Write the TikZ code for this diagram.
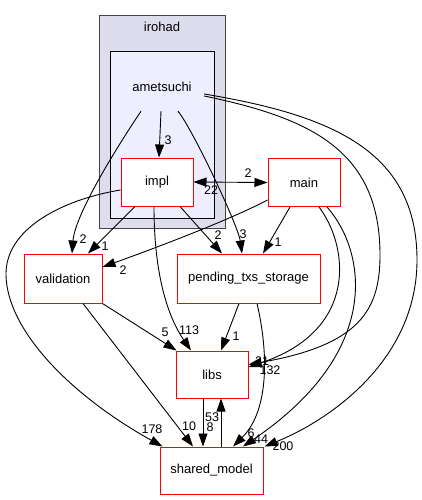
\documentclass[tikz,border=0pt]{standalone}
\usepackage{fontspec}
\setmainfont{Liberation Sans}
\usetikzlibrary{arrows.meta,calc}
\definecolor{outerfill}{HTML}{DDDDEE}
\definecolor{innerfill}{HTML}{EEEEFF}
\definecolor{outerline}{HTML}{444444}
\begin{document}
\begin{tikzpicture}[x=1pt,y=-1pt,
  dirbox/.style={draw=red, line width=1pt, fill=white, minimum height=48pt, inner sep=0pt, font=\fontsize{13}{15}\selectfont},
  lbl/.style={inner sep=0pt, font=\fontsize{12.5}{14}\selectfont},
  conn/.style={draw=black, line width=0.9pt, -{Triangle[length=13pt,width=9pt]}},
  bothconn/.style={draw=black, line width=0.9pt, {Triangle[length=13pt,width=9pt]}-{Triangle[length=13pt,width=9pt]}}]
\useasboundingbox (0,0) rectangle (422,500);
% clusters
\node[draw=outerline, fill=outerfill, line width=1pt, minimum width=126pt, minimum height=212pt, inner sep=0pt] (irohad) at (162,122) {};
\node[lbl, font=\fontsize{13}{15}\selectfont] (irohadlbl) at (162,27) {irohad};
\node[draw=black, fill=innerfill, line width=1pt, minimum width=104pt, minimum height=166pt, inner sep=0pt] (amclus) at (162,135) {};
\node[inner sep=0pt, minimum width=84pt, minimum height=48pt, font=\fontsize{13}{15}\selectfont] (ametsuchi) at (162,87) {ametsuchi};
% nodes
\node[dirbox, minimum width=72pt] (impl) at (157,182) {impl};
\node[dirbox, minimum width=72pt] (main) at (304,182.5) {main};
\node[dirbox, minimum width=78pt, minimum height=49pt] (validation) at (63,278.5) {validation};
\node[dirbox, minimum width=143pt, minimum height=49pt] (pending) at (248.5,278.5) {pending\_txs\_storage};
\node[dirbox, minimum width=72pt, minimum height=47pt] (libs) at (212,374.5) {libs};
\node[dirbox, minimum width=103pt, minimum height=47pt] (shared) at (211.5,470.5) {shared\_model};
% edges from ametsuchi
\draw[conn] ([xshift=-1pt]ametsuchi.south) -- ([xshift=2pt]impl.north);
\draw[conn] ([xshift=-21pt]ametsuchi.south) .. controls (115,150) and (75,215) .. ([xshift=9pt]validation.north);
\draw[conn] ([xshift=16pt]ametsuchi.south) .. controls (192,128) and (238,225) .. ([xshift=-6.5pt]pending.north);
\draw[conn] ([yshift=-9pt]ametsuchi.east) .. controls (310,118) and (380,150) .. (380,255) .. controls (380,310) and (360,345) .. ([yshift=10pt]libs.east);
\draw[conn] ([yshift=-7pt]ametsuchi.east) .. controls (330,115) and (417,150) .. (417,260) .. controls (417,360) and (330,420) .. ([xshift=1pt]shared.north east);
% edges from impl
\draw[bothconn] (impl.east) -- (main.west);
\draw[conn] ([xshift=-22pt]impl.south) -- ([xshift=25pt]validation.north);
\draw[conn] ([xshift=23pt]impl.south) -- ([xshift=-26.5pt]pending.north);
\draw[conn] ([xshift=-3pt]impl.south) .. controls (154,280) and (170,320) .. ([xshift=-21pt]libs.north);
\draw[conn] ([yshift=-8pt]impl.west) .. controls (60,200) and (5,230) .. (6,275) .. controls (7,330) and (70,395) .. ([xshift=3pt]shared.north west);
% edges from main
\draw[conn] ([yshift=7pt]main.south west) .. controls (230,220) and (150,250) .. ([yshift=11.5pt]validation.east);
\draw[conn] ([xshift=-14pt]main.south) -- ([xshift=14.5pt]pending.north);
\draw[conn] ([xshift=15pt]main.south) .. controls (348,245) and (360,330) .. ([yshift=7.5pt]libs.east);
\draw[conn] ([xshift=23pt]main.south) .. controls (365,250) and (385,350) .. ([xshift=31.5pt]shared.north);
% edges from pending
\draw[conn] ([xshift=-9.5pt]pending.south) -- ([xshift=9pt]libs.north);
\draw[conn] ([xshift=8.5pt]pending.south) .. controls (268,350) and (270,410) .. ([xshift=21.5pt]shared.north);
% edges from validation
\draw[conn] (validation.south east) -- ([xshift=1pt]libs.north west);
\draw[conn] ([xshift=20pt]validation.south) -- ([xshift=-18.5pt]shared.north);
% libs <-> shared
\draw[conn] ([xshift=-9pt]libs.south) -- ([xshift=-8.5pt]shared.north);
\draw[conn] ([xshift=9.5pt]shared.north) -- ([xshift=9pt]libs.south);
% labels
\node[lbl] (la) at (168,140) {3};
\node[lbl] (lb) at (83,239) {2};
\node[lbl] (lc) at (243,234) {3};
\node[lbl] (ld) at (262,361) {21};
\node[lbl] (le) at (283,446) {200};
\node[lbl] (lf) at (248,173) {2};
\node[lbl] (lg) at (211,190) {22};
\node[lbl] (lh) at (105,246) {1};
\node[lbl] (li) at (218,235) {2};
\node[lbl] (lj) at (189,330) {113};
\node[lbl] (lk) at (152,429) {178};
\node[lbl] (ll) at (123,270) {2};
\node[lbl] (lm) at (278,242) {1};
\node[lbl] (ln) at (270,370) {132};
\node[lbl] (lo) at (261,439) {44};
\node[lbl] (lp) at (236,336) {1};
\node[lbl] (lq) at (251,433) {6};
\node[lbl] (lr) at (165,332) {5};
\node[lbl] (ls) at (189,426) {10};
\node[lbl] (lt) at (210,427) {8};
\node[lbl] (lu) at (212,417) {53};
\end{tikzpicture}
\end{document}
